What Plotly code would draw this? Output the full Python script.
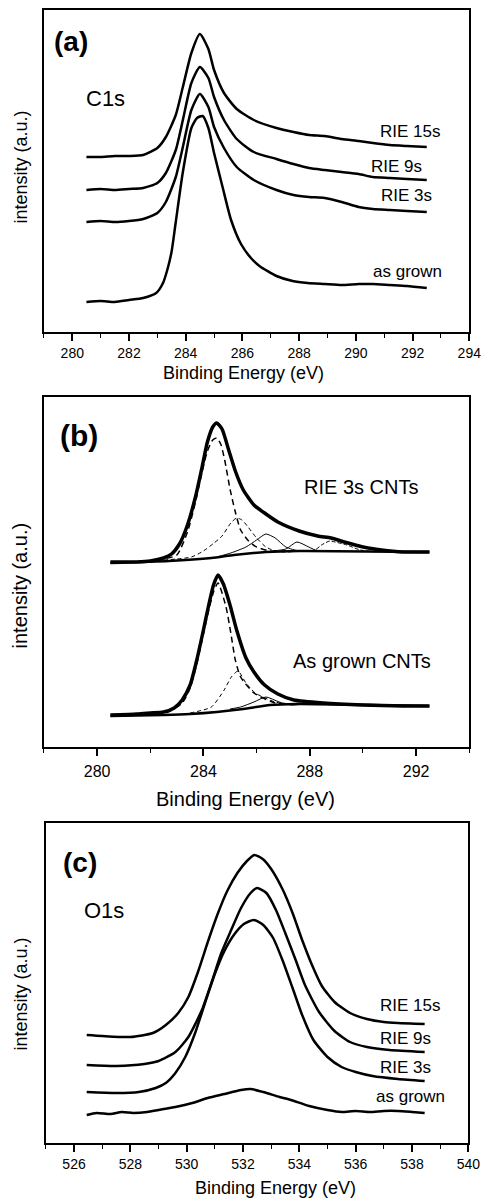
import plotly.graph_objects as go

W, H = 493, 1203
FONT = "Arial, Liberation Sans, sans-serif"

# ---------------- Panel (a): C1s spectra ----------------
a_x_asgrown = [280.5, 281.0, 281.5, 282.0, 282.5, 282.96, 283.2, 283.35, 283.5, 283.64, 283.9, 284.2,
               284.4, 284.6, 284.8, 285.0, 285.3, 285.6, 285.95, 286.3, 286.6, 287.2, 287.77, 288.3,
               288.9, 289.5, 290.1, 290.6, 291.2, 291.8, 292.5]
a_y_asgrown = [30, 31, 30, 32, 34, 39, 49, 62, 80, 108, 160, 204,
               214, 216, 204, 179, 145, 112, 88, 74, 66, 56, 51, 49,
               48, 47, 48, 48, 47, 46, 44]

a_x_rie = [280.5, 281.0, 281.5, 282.0, 282.5, 283.0, 283.3, 283.65, 283.9, 284.2, 284.5, 284.8, 285.0,
           285.35, 285.8, 286.4, 287.2, 287.8, 288.35, 288.9, 289.5, 290.1, 290.6, 291.2, 291.8, 292.5]
a_y_rie3 = [110, 111, 110, 111, 113, 119, 130, 155, 185, 222, 238, 225, 205,
            184, 165, 152, 142, 137, 135, 134, 130, 125, 123, 122, 121, 120]
a_y_rie9 = [142, 143, 142, 143, 144, 149, 159, 182, 212, 249, 265, 254, 235,
            212, 193, 180, 173, 168, 164, 162, 160, 158, 155, 154, 153, 152]
a_y_rie15 = [175, 175, 176, 176, 177, 184, 195, 217, 245, 279, 298, 283, 262,
             239, 223, 212, 204, 200, 197, 196, 193, 191, 189, 187, 186, 185]

a_labels = ["RIE 15s", "RIE 9s", "RIE 3s", "as grown"]
a_ticks = [280, 282, 284, 286, 288, 290, 292, 294]

# ---------------- Panel (b): C1s peak fitting ----------------
b_x_env_rie = [280.5, 281.5, 282.0, 282.5, 282.8, 283.1, 283.4, 283.7, 283.95, 284.15, 284.35, 284.5,
               284.7, 284.95, 285.2, 285.5, 285.9, 286.35, 286.8, 287.6, 288.3, 288.8, 289.3, 290.0,
               290.7, 291.5, 292.5]
b_y_env_rie = [185, 185, 186, 189, 193, 203, 222, 250, 280, 305, 320, 324,
               318, 297, 276, 257, 242, 233, 225, 216, 211, 209, 205, 200,
               197, 195, 195]
b_x_bg_rie = [280.5, 282.7, 284.3, 285.15, 286.35, 287.6, 292.5]
b_y_bg_rie = [184, 186, 189, 192, 195, 196, 195]
b_x_c1_rie = [281.5, 282.5, 283.0, 283.4, 283.7, 283.95, 284.15, 284.35, 284.5, 284.65, 284.8, 285.0,
              285.2, 285.4, 285.7, 286.0, 286.5, 287.2]
b_y_c1_rie = [185, 188, 192, 215, 245, 275, 296, 307, 309, 303, 287, 258,
              235, 217, 206, 200, 196, 196]
b_x_c2_rie = [282.5, 283.0, 283.55, 284.0, 284.4, 284.7, 285.03, 285.25, 285.45, 285.65, 286.0, 286.35,
              286.7, 287.1, 287.6]
b_y_c2_rie = [187, 188, 190, 196, 204, 211, 224, 229, 227, 221, 209, 200,
              196, 195, 196]
b_x_c3_rie = [284.5, 285.03, 285.6, 286.0, 286.35, 286.7, 287.1, 287.6, 288.0]
b_y_c3_rie = [190, 194, 200, 207, 213, 209, 200, 196, 196]
b_x_c4_rie = [286.6, 287.1, 287.52, 287.96, 288.3, 288.7]
b_y_c4_rie = [196, 198, 205, 200, 196, 196]
b_x_c5_rie = [287.8, 288.2, 288.44, 288.75, 288.95, 289.4, 289.9, 290.6]
b_y_c5_rie = [196, 197, 202, 206, 205, 202, 197, 195]

b_x_env_ag = [280.5, 281.5, 282.0, 282.5, 282.9, 283.2, 283.5, 283.75, 284.0, 284.2, 284.38, 284.55,
              284.75, 285.0, 285.25, 285.6, 285.9, 286.3, 286.8, 287.4, 288.5, 290.0, 291.5, 292.5]
b_y_env_ag = [32, 33, 34, 35, 39, 47, 62, 87, 117, 142, 162, 172,
              163, 142, 117, 89, 75, 62, 53, 47, 44, 42, 41, 41]
b_x_bg_ag = [280.5, 282.5, 283.5, 284.5, 285.5, 286.5, 287.5, 292.5]
b_y_bg_ag = [31, 32, 33, 35, 38, 42, 43, 41]
b_x_c1_ag = [281.5, 282.5, 283.2, 283.5, 283.75, 284.0, 284.2, 284.38, 284.55, 284.85, 285.03, 285.2,
             285.4, 285.9, 286.7, 287.5]
b_y_c1_ag = [32, 33, 44, 59, 83, 113, 137, 155, 164, 140, 114, 87,
             70, 54, 44, 43]
b_x_c2_ag = [283.5, 284.3, 284.78, 285.05, 285.3, 285.6, 285.95, 286.7, 287.3]
b_y_c2_ag = [34, 40, 57, 70, 76, 64, 54, 45, 43]
b_x_c3_ag = [285.0, 285.4, 285.9, 286.35, 286.85, 287.3, 287.8]
b_y_c3_ag = [38, 40, 45, 50, 45, 42, 43]

b_labels = ["RIE 3s CNTs", "As grown CNTs"]
b_ticks = [280, 284, 288, 292]

# ---------------- Panel (c): O1s spectra ----------------
c_x_rie15 = [526.45, 527.0, 528.0, 528.8, 529.26, 529.7, 530.06, 530.4, 530.75, 531.1, 531.44, 531.8,
             532.14, 532.4, 532.7, 533.0, 533.4, 533.76, 534.1, 534.45, 534.8, 535.25, 535.8, 536.4,
             537.0, 537.5, 538.45]
c_y_rie15 = [108, 107, 106, 110, 118, 130, 146, 171, 201, 229, 252, 270,
             282, 288, 284, 274, 254, 230, 203, 178, 157, 141, 130, 124,
             121, 120, 119]
c_x_rie9 = [526.45, 527.5, 528.5, 529.0, 529.6, 530.06, 530.54, 530.9, 531.23, 531.58, 531.93, 532.27,
            532.5, 532.83, 533.17, 533.5, 533.87, 534.2, 534.7, 535.25, 535.8, 536.4, 537.2, 538.45]
c_y_rie9 = [78, 77, 79, 82, 91, 106, 133, 162, 190, 213, 235, 250,
            255, 250, 233, 210, 183, 158, 131, 112, 101, 96, 93, 91]
c_x_rie3 = [526.45, 527.5, 528.3, 528.9, 529.26, 529.6, 529.95, 530.3, 530.65, 531.0, 531.34, 531.7,
            532.03, 532.38, 532.72, 533.07, 533.4, 533.76, 534.1, 534.5, 535.0, 535.5, 536.0, 536.6,
            537.5, 538.45]
c_y_rie3 = [51, 50, 51, 55, 60, 70, 86, 110, 140, 169, 192, 209,
            219, 223, 218, 205, 183, 155, 128, 103, 86, 76, 71, 67,
            64, 62]
c_x_asgrown = [526.45, 526.8, 527.3, 527.7, 528.1, 528.6, 529.0, 529.6, 530.2, 530.75, 531.34, 531.93,
               532.27, 532.72, 533.3, 533.7, 534.35, 535.0, 535.5, 536.0, 536.5, 537.0, 537.5, 538.0,
               538.45]
c_y_asgrown = [28, 30, 29, 31, 30, 31, 33, 36, 40, 45, 49, 53,
               54, 51, 46, 43, 37, 33, 31, 32, 31, 32, 32, 31,
               30]

c_labels = ["RIE 15s", "RIE 9s", "RIE 3s", "as grown"]
c_ticks = [526, 528, 530, 532, 534, 536, 538, 540]


# ---------------- helpers (pixel layout -> paper coords) ----------------
def px(x):
    return x / W


def py(y):
    return 1 - y / H


fig = go.Figure()


def line(xs, ys, ax, width=2.5, dash="solid"):
    fig.add_trace(go.Scatter(
        x=xs, y=ys, mode="lines", xaxis="x" + ax, yaxis="y" + ax,
        line=dict(color="black", width=width, dash=dash, shape="spline", smoothing=0.6),
        showlegend=False, hoverinfo="skip"))


# panel a
for ys in (a_y_rie15, a_y_rie9, a_y_rie3):
    line(a_x_rie, ys, "", 2.5)
line(a_x_asgrown, a_y_asgrown, "", 2.5)

# panel b
line(b_x_bg_rie, b_y_bg_rie, "2", 2.5)
line(b_x_c2_rie, b_y_c2_rie, "2", 1.0, "4px,3px")
line(b_x_c3_rie, b_y_c3_rie, "2", 1.0)
line(b_x_c4_rie, b_y_c4_rie, "2", 1.0)
line(b_x_c5_rie, b_y_c5_rie, "2", 1.0, "4px,2px")
line(b_x_c1_rie, b_y_c1_rie, "2", 1.5, "6px,4px")
line(b_x_env_rie, b_y_env_rie, "2", 3.5)

line(b_x_bg_ag, b_y_bg_ag, "2", 2.5)
line(b_x_c2_ag, b_y_c2_ag, "2", 1.0, "4px,3px")
line(b_x_c3_ag, b_y_c3_ag, "2", 1.0)
line(b_x_c1_ag, b_y_c1_ag, "2", 1.5, "6px,4px")
line(b_x_env_ag, b_y_env_ag, "2", 3.5)

# panel c
line(c_x_rie15, c_y_rie15, "3", 2.5)
line(c_x_rie9, c_y_rie9, "3", 2.5)
line(c_x_rie3, c_y_rie3, "3", 2.5)
line(c_x_asgrown, c_y_asgrown, "3", 2.5)


def xaxis(dom, rng, ticks, minor, anchor, size, standoff):
    return dict(domain=dom, range=rng, anchor=anchor, tickvals=ticks, ticktext=[str(t) for t in ticks],
                showline=True, mirror=True, linecolor="black", linewidth=2, showgrid=False,
                zeroline=False, ticks="outside", ticklen=7, tickwidth=1.5, tickcolor="black",
                ticklabelstandoff=standoff,
                minor=dict(dtick=minor, ticks="outside", ticklen=4, tickwidth=1.2, tickcolor="black",
                           showgrid=False),
                tickfont=dict(family=FONT, size=size, color="black"))


def yaxis(dom, rng, anchor):
    return dict(domain=dom, range=rng, anchor=anchor, showline=True, mirror=True, linecolor="black",
                linewidth=2, showgrid=False, zeroline=False, showticklabels=False, ticks="")


fig.update_layout(
    width=W, height=H, margin=dict(l=0, r=0, t=0, b=0),
    paper_bgcolor="white", plot_bgcolor="white",
    xaxis=xaxis([px(45), px(481)], [279, 294], a_ticks, 1, "y", 14, 0),
    yaxis=yaxis([py(332), py(10)], [0, 322], "x"),
    xaxis2=xaxis([px(45), px(481)], [278, 294], b_ticks, 2, "y2", 16, 2),
    yaxis2=yaxis([py(747), py(397)], [0, 350], "x2"),
    xaxis3=xaxis([px(47), px(480)], [525, 540], c_ticks, 1, "y3", 14, 0),
    yaxis3=yaxis([py(1143), py(823)], [0, 320], "x3"),
)

ann = []


def text(t, x, y, size, xanchor="center", bold=False, angle=0):
    ann.append(dict(text=("<b>%s</b>" % t) if bold else t, x=px(x), y=py(y), xref="paper", yref="paper",
                    xanchor=xanchor, yanchor="middle", showarrow=False, textangle=angle,
                    font=dict(family=FONT, size=size, color="black")))


# panel (a) text
text("(a)", 73, 41, 28, bold=True)
text("C1s", 108, 99, 22)
text(a_labels[0], 387, 131, 17, "left")
text(a_labels[1], 378, 166, 17, "left")
text(a_labels[2], 388, 195, 17, "left")
text(a_labels[3], 380, 271, 17, "left")
text("Binding Energy (eV)", 250, 373, 18)
text("intensity (a.u.)", 22, 167, 18, angle=-90)

# panel (b) text
text("(b)", 81, 435, 30, bold=True)
text(b_labels[0], 310, 487, 20, "left")
text(b_labels[1], 298, 661, 20, "left")
text("Binding Energy (eV)", 252, 799, 20)
text("intensity (a.u.)", 21, 585, 20, angle=-90)

# panel (c) text
text("(c)", 82, 862, 28, bold=True)
text("O1s", 107, 910, 22)
text(c_labels[0], 387, 1006, 17, "left")
text(c_labels[1], 387, 1038, 17, "left")
text(c_labels[2], 387, 1067, 17, "left")
text(c_labels[3], 383, 1096, 17, "left")
text("Binding Energy (eV)", 282, 1188, 18)
text("intensity (a.u.)", 22, 994, 18, angle=-90)

fig.update_layout(annotations=ann)
fig.write_html("out.html", config={"displayModeBar": False},
               post_script="document.body.style.margin='0';")
